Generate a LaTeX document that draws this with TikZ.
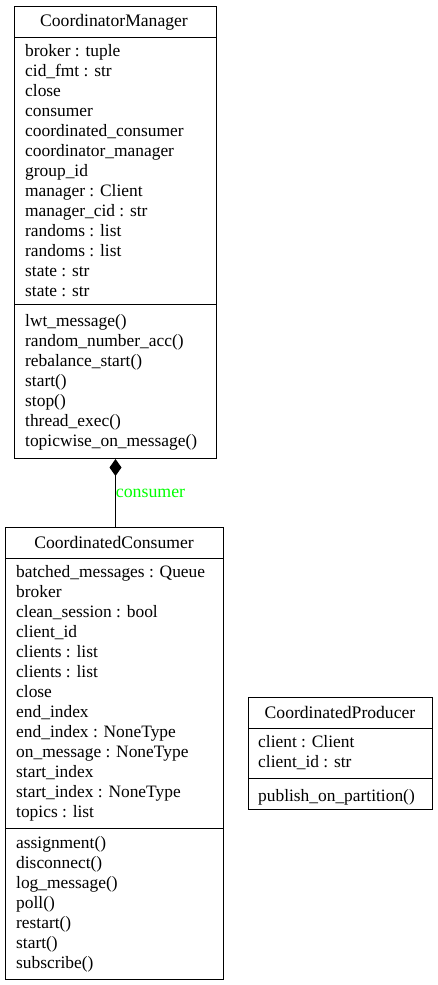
\documentclass[tikz,border=0pt]{standalone}
\usepackage{fontspec}
\setmainfont{Liberation Serif}
\usetikzlibrary{arrows.meta}
\tikzset{
  umlbox/.style={draw, line width=1pt, inner sep=0pt, anchor=north west},
  sepline/.style={line width=1pt},
  txt/.style={anchor=base west, inner sep=0pt, font=\fontsize{17.4}{20}\selectfont},
  ttl/.style={anchor=base, inner sep=0pt, font=\fontsize{17.6}{20}\selectfont},
  rolelabel/.style={anchor=base west, inner sep=0pt, text=green, font=\fontsize{17.8}{20}\selectfont},
  comp/.style={line width=1pt, {Diamond[length=17pt,width=12pt]}-}
}
\begin{document}
\begin{tikzpicture}[x=1pt,y=-1pt]
\useasboundingbox (0,0) rectangle (437,985);

% CoordinatorManager
\node[umlbox, minimum width=202pt, minimum height=452pt] (cm) at (14,6) {};
\node[ttl] (cmt) at (114,26.5) {CoordinatorManager};
\draw[sepline] (14,37) -- (216,37);
\draw[sepline] (14,304) -- (216,304);
\foreach \t [count=\i] in {broker : tuple, cid\_fmt : str, close, consumer, coordinated\_consumer, coordinator\_manager, group\_id, manager : Client, manager\_cid : str, randoms : list, randoms : list, state : str, state : str}
  \node[txt] (cma\i) at (25,{56.5+20*(\i-1)}) {\t};
\foreach \t [count=\i] in {lwt\_message(), random\_number\_acc(), rebalance\_start(), start(), stop(), thread\_exec(), topicwise\_on\_message()}
  \node[txt] (cmm\i) at (25,{326.5+20*(\i-1)}) {\t};

% CoordinatedConsumer
\node[umlbox, minimum width=218pt, minimum height=452pt] (cc) at (5,527) {};
\node[ttl] (cct) at (114,548.5) {CoordinatedConsumer};
\draw[sepline] (5,558) -- (223,558);
\draw[sepline] (5,828) -- (223,828);
\foreach \t [count=\i] in {batched\_messages : Queue, broker, clean\_session : bool, client\_id, clients : list, clients : list, close, end\_index, end\_index : NoneType, on\_message : NoneType, start\_index, start\_index : NoneType, topics : list}
  \node[txt] (cca\i) at (16,{577.5+20*(\i-1)}) {\t};
\foreach \t [count=\i] in {assignment(), disconnect(), log\_message(), poll(), restart(), start(), subscribe()}
  \node[txt] (ccm\i) at (16,{848.5+20*(\i-1)}) {\t};

% CoordinatedProducer
\node[umlbox, minimum width=184pt, minimum height=112pt] (cp) at (248,697) {};
\node[ttl] (cpt) at (340,718.5) {CoordinatedProducer};
\draw[sepline] (248,728) -- (432,728);
\draw[sepline] (248,778) -- (432,778);
\node[txt] (cpa1) at (258,747.5) {client : Client};
\node[txt] (cpa2) at (258,767.5) {client\_id : str};
\node[txt] (cpm1) at (258,801.5) {publish\_on\_partition()};

% composition
\draw[comp] (cm.south) -- (cm.south |- cc.north);
\node[rolelabel] (lbl) at (115.7,497.5) {consumer};
\end{tikzpicture}
\end{document}
